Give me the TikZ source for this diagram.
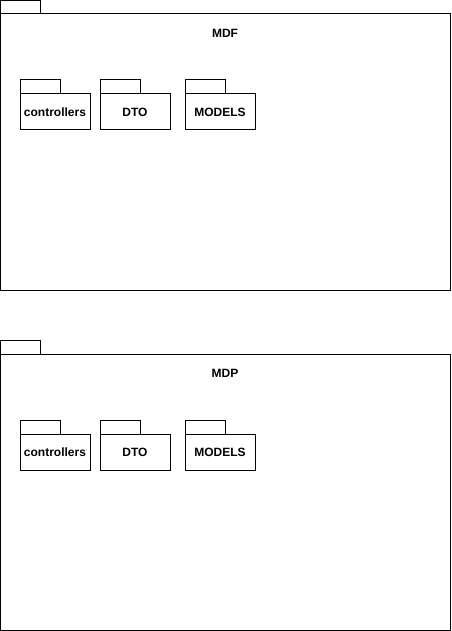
\documentclass[tikz,border=0pt]{standalone}
\usepackage{fontspec}
\setmainfont{Liberation Sans}
\usetikzlibrary{positioning}
\begin{document}
\begin{tikzpicture}[x=1pt,y=-1pt,line width=1pt,
  pkg/.style={draw,minimum width=70pt,minimum height=36pt,inner sep=0pt,outer sep=0pt,font=\bfseries\fontsize{12}{14}\selectfont},
  outer/.style={draw,minimum width=449.5pt,minimum height=276pt,inner sep=0pt,outer sep=0pt},
  title/.style={font=\bfseries\fontsize{12}{14}\selectfont}]
\useasboundingbox(0,0)rectangle(451,631);
% MDF
\node[outer](mdf)at(225.25,152){};\draw(mdf.north west)rectangle++(39.5,-13.5);
\node[title](mdft)at(225,33){MDF};
\node[pkg](ctrf)at(55,112){controllers};\draw(ctrf.north west)rectangle++(40,-14);
\node[pkg,right=10pt of ctrf](dtof){DTO};\draw(dtof.north west)rectangle++(40,-14);
\node[pkg,right=15pt of dtof](modf){MODELS};\draw(modf.north west)rectangle++(40,-14);
% MDP
\node[outer](mdp)at(225.25,492){};\draw(mdp.north west)rectangle++(39.5,-13.5);
\node[title](mdpt)at(225,373){MDP};
\node[pkg](ctrp)at(55,452){controllers};\draw(ctrp.north west)rectangle++(40,-14);
\node[pkg,right=10pt of ctrp](dtop){DTO};\draw(dtop.north west)rectangle++(40,-14);
\node[pkg,right=15pt of dtop](modp){MODELS};\draw(modp.north west)rectangle++(40,-14);
\end{tikzpicture}
\end{document}
